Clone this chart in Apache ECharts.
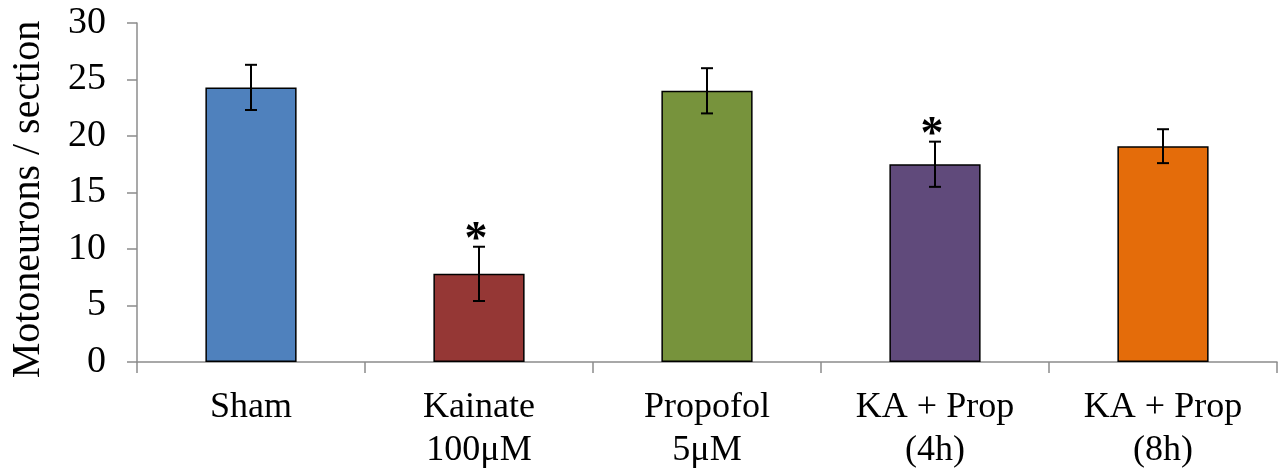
<!DOCTYPE html>
<html>
<head>
<meta charset="utf-8">
<script src="https://cdn.jsdelivr.net/npm/echarts@6/dist/echarts.min.js"></script>
<style>
  html, body { margin: 0; padding: 0; background: #fff; }
  #chart { width: 1283px; height: 470px; }
</style>
</head>
<body>
<div id="chart"></div>
<script>
// Motoneuron counts per section by treatment group (mean ± error)
const categories = ['Sham', 'Kainate\n100μM', 'Propofol\n5μM', 'KA + Prop\n(4h)', 'KA + Prop\n(8h)'];
const means = [24.3, 7.8, 24.0, 17.5, 19.1];
const errors = [2.0, 2.4, 2.0, 2.0, 1.5];
const significance = ['', '*', '', '*', ''];
const barColors = ['#4F81BD', '#953735', '#77933C', '#604A7B', '#E46C0A'];
const yTicks = { min: 0, max: 30, interval: 5 };

const FONT = '"Liberation Serif", "Times New Roman", serif';
const AXIS_GRAY = '#8c8c8c';

const chart = echarts.init(document.getElementById('chart'), null, { renderer: 'canvas' });

const errorData = means.map((m, i) => [i, m - errors[i], m + errors[i], significance[i]]);

chart.setOption({
  animation: false,
  grid: { left: 137, right: 6, top: 23, bottom: 108, outerBoundsMode: 'none', containLabel: false },
  xAxis: {
    type: 'category',
    data: categories,
    axisLine: { lineStyle: { color: AXIS_GRAY, width: 1.5 } },
    axisTick: { show: true, length: 11, lineStyle: { color: AXIS_GRAY, width: 1.5 } },
    axisLabel: {
      color: '#000', fontFamily: FONT, fontSize: 36, lineHeight: 43, margin: 24, interval: 0
    }
  },
  yAxis: {
    type: 'value',
    min: yTicks.min, max: yTicks.max, interval: yTicks.interval,
    name: 'Motoneurons / section',
    nameLocation: 'middle',
    nameGap: 89,
    nameTextStyle: { color: '#000', fontFamily: FONT, fontSize: 40, padding: [0, 14, 0, 0] },
    axisLine: { show: true, lineStyle: { color: AXIS_GRAY, width: 1.5 } },
    axisTick: { show: true, length: 10, lineStyle: { color: AXIS_GRAY, width: 1.5 } },
    splitLine: { show: false },
    axisLabel: { color: '#000', fontFamily: FONT, fontSize: 38, margin: 31 }
  },
  series: [
    {
      type: 'bar',
      data: means.map((v, i) => ({
        value: v,
        itemStyle: { color: barColors[i], borderColor: '#000', borderWidth: 1.5 }
      })),
      barWidth: '40%'
    },
    {
      type: 'custom',
      data: errorData,
      z: 10,
      renderItem: function (params, api) {
        const x = api.value(0);
        const lo = api.coord([x, api.value(1)]);
        const hi = api.coord([x, api.value(2)]);
        const cap = 6;
        const style = { stroke: '#000', lineWidth: 2 };
        const children = [
          { type: 'line', shape: { x1: hi[0], y1: hi[1], x2: lo[0], y2: lo[1] }, style },
          { type: 'line', shape: { x1: hi[0] - cap, y1: hi[1], x2: hi[0] + cap, y2: hi[1] }, style },
          { type: 'line', shape: { x1: lo[0] - cap, y1: lo[1], x2: lo[0] + cap, y2: lo[1] }, style }
        ];
        const mark = api.value(3);
        if (mark) {
          children.push({
            type: 'text',
            style: {
              x: hi[0] - 3, y: hi[1] + 17,
              text: mark,
              fill: '#000',
              font: 'bold 46px ' + FONT,
              align: 'center',
              verticalAlign: 'bottom'
            }
          });
        }
        return { type: 'group', children };
      }
    }
  ]
});
</script>
</body>
</html>
